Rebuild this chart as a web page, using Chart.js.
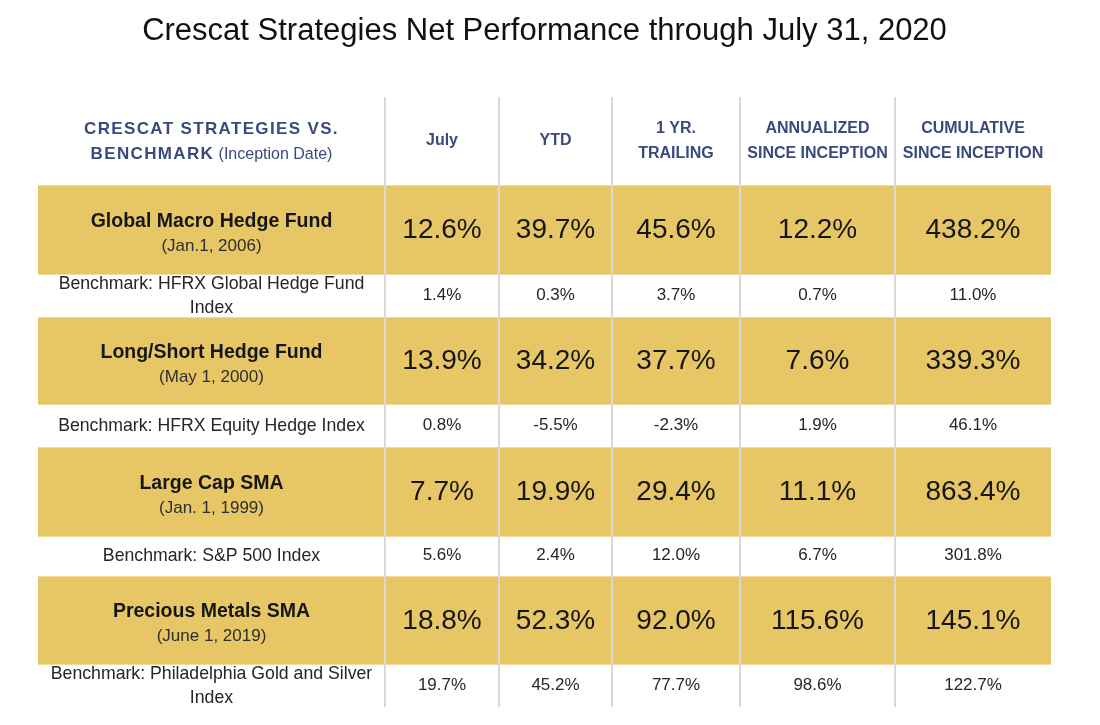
<!DOCTYPE html>
<html><head><meta charset="utf-8">
<script src="https://cdn.jsdelivr.net/npm/chart.js@4.4.0/dist/chart.umd.min.js"></script>
<style>html,body{margin:0;padding:0;background:#fff}#wrap{width:1100px;height:725px;position:relative}</style>
</head><body><div id="wrap"><canvas id="c"></canvas></div>
<script>
// ---- data ----
const chartTitle = 'Crescat Strategies Net Performance through July 31, 2020';
const cornerHeader = ['CRESCAT STRATEGIES VS.', 'BENCHMARK', ' (Inception Date)'];
const columnHeaders = [['July'], ['YTD'], ['1 YR.', 'TRAILING'], ['ANNUALIZED', 'SINCE INCEPTION'], ['CUMULATIVE', 'SINCE INCEPTION']];
const strategies = ['Global Macro Hedge Fund', 'Long/Short Hedge Fund', 'Large Cap SMA', 'Precious Metals SMA'];
const inceptionDates = ['(Jan.1, 2006)', '(May 1, 2000)', '(Jan. 1, 1999)', '(June 1, 2019)'];
const benchmarkNames = [['Benchmark: HFRX Global Hedge Fund', 'Index'], ['Benchmark: HFRX Equity Hedge Index'], ['Benchmark: S&P 500 Index'], ['Benchmark: Philadelphia Gold and Silver', 'Index']];
const globalMacro = [12.6, 39.7, 45.6, 12.2, 438.2];
const globalMacroBench = [1.4, 0.3, 3.7, 0.7, 11.0];
const longShort = [13.9, 34.2, 37.7, 7.6, 339.3];
const longShortBench = [0.8, -5.5, -2.3, 1.9, 46.1];
const largeCap = [7.7, 19.9, 29.4, 11.1, 863.4];
const largeCapBench = [5.6, 2.4, 12.0, 6.7, 301.8];
const preciousMetals = [18.8, 52.3, 92.0, 115.6, 145.1];
const preciousMetalsBench = [19.7, 45.2, 77.7, 98.6, 122.7];

const fundValues = [globalMacro, longShort, largeCap, preciousMetals];
const benchValues = [globalMacroBench, longShortBench, largeCapBench, preciousMetalsBench];

// ---- layout (sizes, not data) ----
const colWidths = [347, 114, 113, 128, 155, 156];
const rowHeights = [88, 90, 42, 88, 42, 90, 39, 89, 42];
const colEdges = colWidths.reduce((a, w) => { a.push(a[a.length - 1] + w); return a; }, [0]);
const rowEdges = rowHeights.reduce((a, h) => { a.push(a[a.length - 1] + h); return a; }, [0]);

const GOLD = '#e7c666';
const GOLD_EDGE = '#f1dc9c';
const GRID = '#d9d9d9';
const BLUE = '#3b4a7c';
const FONT = '"Liberation Sans", Arial, sans-serif';

const fmt = v => v.toFixed(1) + '%';

const tablePlugin = {
  id: 'table',
  beforeDatasetsDraw(chart) {
    const { ctx, scales: { x, y } } = chart;
    const X = v => x.getPixelForValue(v);
    const Y = v => y.getPixelForValue(v);
    const cx = c => (X(colEdges[c]) + X(colEdges[c + 1])) / 2;
    const cy = r => (Y(rowEdges[r]) + Y(rowEdges[r + 1])) / 2;
    const xL = X(0), xR = X(colEdges[colEdges.length - 1]);
    ctx.save();
    // gold rows
    for (let i = 0; i < strategies.length; i++) {
      const r = 1 + i * 2;
      const y0 = Y(rowEdges[r]), y1 = Y(rowEdges[r + 1]);
      ctx.fillStyle = GOLD;
      ctx.fillRect(xL, y0, xR - xL, y1 - y0);
      ctx.fillStyle = GOLD_EDGE;
      ctx.fillRect(xL, y0, xR - xL, 1);
      ctx.fillRect(xL, y1 - 1, xR - xL, 1);
    }
    // vertical dividers
    ctx.fillStyle = GRID;
    for (let c = 1; c < colEdges.length - 1; c++) {
      const px = Math.round(X(colEdges[c]));
      ctx.fillRect(px - 1, Y(0), 2, Y(rowEdges[rowEdges.length - 1]) - Y(0));
    }
    ctx.textAlign = 'center';
    ctx.textBaseline = 'middle';
    // corner header
    const hc = cy(0);
    ctx.fillStyle = BLUE;
    ctx.font = 'bold 17px ' + FONT;
    ctx.letterSpacing = '1.35px';
    ctx.fillText(cornerHeader[0], cx(0), hc - 12);
    const w1 = ctx.measureText(cornerHeader[1]).width;
    ctx.font = '16px ' + FONT;
    ctx.letterSpacing = '0px';
    const w2 = ctx.measureText(cornerHeader[2]).width;
    const startX = cx(0) - (w1 + w2) / 2;
    ctx.textAlign = 'left';
    ctx.font = 'bold 17px ' + FONT;
    ctx.letterSpacing = '1.35px';
    ctx.fillText(cornerHeader[1], startX, hc + 13.5);
    ctx.letterSpacing = '0px';
    ctx.font = '16px ' + FONT;
    ctx.fillText(cornerHeader[2], startX + w1, hc + 13.5);
    ctx.textAlign = 'center';
    // column headers
    ctx.font = 'bold 16px ' + FONT;
    columnHeaders.forEach((lines, i) => {
      const c = i + 1;
      if (lines.length === 1) ctx.fillText(lines[0], cx(c), hc);
      else { ctx.fillText(lines[0], cx(c), hc - 12); ctx.fillText(lines[1], cx(c), hc + 13); }
    });
    // body
    strategies.forEach((name, i) => {
      const r = 1 + i * 2;
      const m = cy(r);
      ctx.fillStyle = '#161616';
      ctx.font = 'bold 19.5px ' + FONT;
      ctx.fillText(name, cx(0), m - 8.5);
      ctx.fillStyle = '#2e2e2e';
      ctx.font = '17px ' + FONT;
      ctx.fillText(inceptionDates[i], cx(0), m + 16);
      ctx.fillStyle = '#161616';
      ctx.font = '28px ' + FONT;
      fundValues[i].forEach((v, j) => ctx.fillText(fmt(v), cx(j + 1), m + 0.5));
      // benchmark row
      const rb = r + 1;
      const mb = cy(rb);
      ctx.fillStyle = '#25252b';
      ctx.font = '17.7px ' + FONT;
      const bl = benchmarkNames[i];
      if (bl.length === 1) ctx.fillText(bl[0], cx(0), mb);
      else { ctx.fillText(bl[0], cx(0), mb - 11.5); ctx.fillText(bl[1], cx(0), mb + 12); }
      ctx.font = '17px ' + FONT;
      benchValues[i].forEach((v, j) => ctx.fillText(fmt(v), cx(j + 1), mb - 1));
    });
    ctx.restore();
  }
};

new Chart(document.getElementById('c'), {
  type: 'scatter',
  data: { datasets: [] },
  options: {
    responsive: true,
    maintainAspectRatio: false,
    animation: false,
    layout: { padding: { left: 38, right: 49, top: 0, bottom: 18 } },
    scales: {
      x: { type: 'linear', min: 0, max: colEdges[colEdges.length - 1], offset: false, display: false },
      y: { type: 'linear', min: 0, max: rowEdges[rowEdges.length - 1], reverse: true, offset: false, display: false }
    },
    plugins: {
      legend: { display: false },
      tooltip: { enabled: false },
      title: {
        display: true,
        text: chartTitle,
        color: '#111111',
        font: { family: FONT, size: 31, weight: 'normal', lineHeight: 1.2 },
        padding: { top: 12.5, bottom: 47.3 }
      }
    }
  },
  plugins: [tablePlugin]
});
</script>
</body></html>
